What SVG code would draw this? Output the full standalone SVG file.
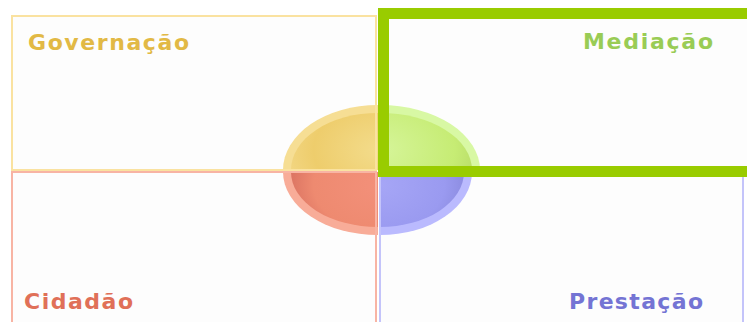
<svg xmlns="http://www.w3.org/2000/svg" width="747" height="322" viewBox="0 0 747 322">
  <style>
    .box { fill: none; stroke-width: 2; }
    .lbl { font-family: "DejaVu Sans", Verdana, sans-serif; font-weight: bold; font-size: 22px; }
  </style>
  <defs>
    <radialGradient id="gy" cx="380" cy="150" r="95" gradientUnits="userSpaceOnUse" gradientTransform="translate(380 150) scale(1 0.7) translate(-380 -150)">
      <stop offset="0" stop-color="#f3dc8c"/>
      <stop offset="0.7" stop-color="#eecd6c"/>
      <stop offset="1" stop-color="#f2d682"/>
    </radialGradient>
    <radialGradient id="gg" cx="380" cy="150" r="100" gradientUnits="userSpaceOnUse" gradientTransform="translate(380 150) scale(1 0.7) translate(-380 -150)">
      <stop offset="0" stop-color="#d6f59a"/>
      <stop offset="0.75" stop-color="#c6ec74"/>
      <stop offset="1" stop-color="#b8dc68"/>
    </radialGradient>
    <radialGradient id="gr" cx="380" cy="185" r="95" gradientUnits="userSpaceOnUse" gradientTransform="translate(380 185) scale(1 0.7) translate(-380 -185)">
      <stop offset="0" stop-color="#f3907a"/>
      <stop offset="0.7" stop-color="#ee8a70"/>
      <stop offset="1" stop-color="#d87060"/>
    </radialGradient>
    <radialGradient id="gb" cx="380" cy="185" r="92" gradientUnits="userSpaceOnUse" gradientTransform="translate(380 185) scale(1 0.7) translate(-380 -185)">
      <stop offset="0" stop-color="#a6a6f6"/>
      <stop offset="0.7" stop-color="#9a9af0"/>
      <stop offset="1" stop-color="#8888dc"/>
    </radialGradient>
  </defs>

  <rect x="0" y="0" width="747" height="322" fill="#ffffff"/>
  <rect x="12" y="16" width="364" height="154" fill="#fdfdfd"/>
  <rect x="12" y="172" width="364" height="160" fill="#fdfdfd"/>
  <rect x="380" y="172" width="363" height="160" fill="#fdfdfd"/>
  <rect x="383.5" y="13.5" width="380" height="158" fill="#fdfdfd"/>

  <g id="center">
    <path d="M378,170 L283,170 A95,65 0 0 1 378,105 Z" fill="#f6de94"/>
    <path d="M378,170 L291,170 A87,57 0 0 1 378,113 Z" fill="url(#gy)"/>
    <path d="M380,170 L380,105 A100,65 0 0 1 480,170 Z" fill="#d8f8a4"/>
    <path d="M380,170 L380,113 A92,57 0 0 1 472,170 Z" fill="url(#gg)"/>
    <path d="M378,172 L378,235 A95,63 0 0 1 283,172 Z" fill="#f8ac98"/>
    <path d="M378,172 L378,227 A87,55 0 0 1 291,172 Z" fill="url(#gr)"/>
    <path d="M380,172 L472,172 A92,63 0 0 1 380,235 Z" fill="#babafe"/>
    <path d="M380,172 L464,172 A84,55 0 0 1 380,227 Z" fill="url(#gb)"/>
  </g>

  <g id="governacao">
    <rect class="box" x="12" y="16" width="364" height="154" stroke="#fae2a0"/>
    <text class="lbl" x="28" y="50" fill="#e2b945" textLength="161" lengthAdjust="spacing">Governação</text>
  </g>
  <g id="cidadao">
    <rect class="box" x="12" y="172" width="364" height="170" stroke="#f8b4a4"/>
    <text class="lbl" x="24" y="309" fill="#e07058" textLength="109" lengthAdjust="spacing">Cidadão</text>
  </g>
  <g id="prestacao">
    <rect class="box" x="380" y="172" width="363" height="170" stroke="#c4c4fa"/>
    <text class="lbl" x="569" y="309" fill="#7474d4" textLength="134" lengthAdjust="spacing">Prestação</text>
  </g>
  <g id="mediacao">
    <rect x="383.5" y="13.5" width="380" height="158" fill="none" stroke="#99cc00" stroke-width="11"/>
    <text class="lbl" x="583" y="49" fill="#99cc55" textLength="130" lengthAdjust="spacing">Mediação</text>
  </g>
  <g id="connectors"/>
</svg>
